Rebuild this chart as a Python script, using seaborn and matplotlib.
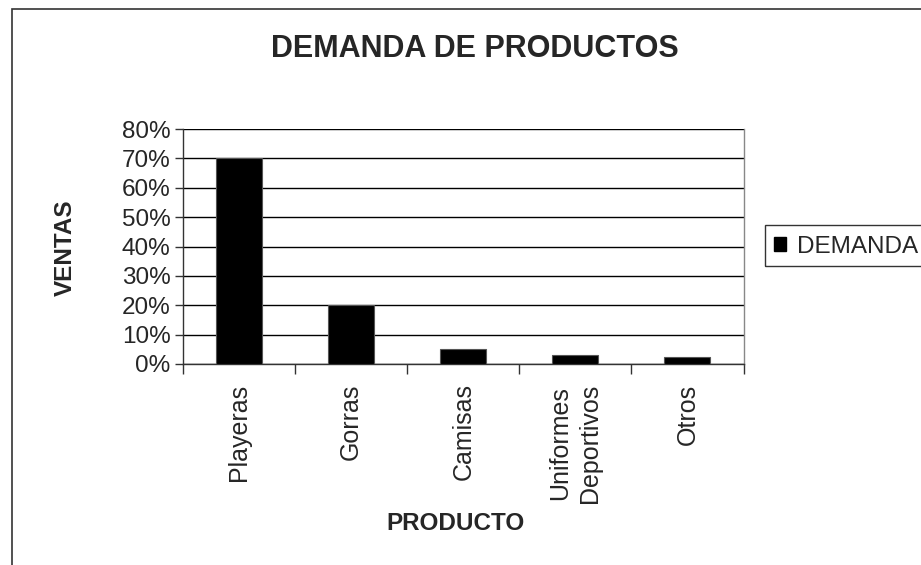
import matplotlib
matplotlib.use("Agg")
import matplotlib.pyplot as plt
import seaborn as sns
import pandas as pd
import numpy as np
from matplotlib.patches import Rectangle
from matplotlib.ticker import FixedLocator, PercentFormatter

productos = ["Playeras", "Gorras", "Camisas", "Uniformes\nDeportivos", "Otros"]
demanda = [0.70, 0.20, 0.05, 0.03, 0.023]
y_ticks = [0.0, 0.1, 0.2, 0.3, 0.4, 0.5, 0.6, 0.7, 0.8]

sns.set_theme(style="white")
plt.rcParams["font.family"] = ["Liberation Sans", "DejaVu Sans"]

df = pd.DataFrame({"PRODUCTO": productos, "DEMANDA": demanda})

W, H = 921, 565
L, R, T, B = 183, 743.5, 129, 364
fig = plt.figure(figsize=(W / 100, H / 100), dpi=100)
fig.patch.set_facecolor("white")
ax = fig.add_axes([L / W, 1 - B / H, (R - L) / W, (B - T) / H])

sns.barplot(data=df, x="PRODUCTO", y="DEMANDA", color="black", width=0.41,
            edgecolor="#555555", linewidth=0.8, saturation=1, ax=ax, zorder=3,
            legend=False)

ax.set_xlim(-0.5, len(productos) - 0.5)
ax.set_ylim(0, 0.8)
ax.set_yticks(y_ticks)
ax.yaxis.set_major_formatter(PercentFormatter(1.0, decimals=0))
ax.grid(axis="y", color="black", linewidth=1, zorder=0)
ax.set_axisbelow(True)

ax.set_xticks(range(len(productos)))
ax.set_xticklabels(productos, rotation=90, va="top", ha="center",
                   fontsize=18, linespacing=1.3)
ax.xaxis.set_minor_locator(FixedLocator(np.arange(-0.5, len(productos), 1.0)))
ax.tick_params(axis="x", which="major", length=0, pad=14)
ax.tick_params(axis="x", which="minor", length=7, width=1, color="#333333",
               direction="out", bottom=True)
ax.tick_params(axis="y", which="major", length=6, width=1, color="#333333",
               direction="out", left=True, labelsize=17.5, pad=3)

for s in ["left", "bottom"]:
    ax.spines[s].set_color("#333333")
    ax.spines[s].set_linewidth(1)
ax.spines["right"].set_color("#888888")
ax.spines["right"].set_linewidth(1)
ax.spines["top"].set_visible(False)

ax.set_xlabel("PRODUCTO", fontsize=17.5, fontweight="bold")
ax.set_ylabel("VENTAS", fontsize=17.5, fontweight="bold")
ax.xaxis.set_label_coords((455 - L) / (R - L), -(524 - B) / (B - T))
ax.xaxis.label.set_va("center")
ax.yaxis.set_label_coords(-(L - 65) / (R - L), (B - 248) / (B - T))
ax.yaxis.label.set_va("center")

fig.text(475 / W, 1 - 49 / H, "DEMANDA DE PRODUCTOS", fontsize=22,
         fontweight="bold", ha="center", va="center")

handle = Rectangle((0, 0), 1, 1, facecolor="black", edgecolor="black")
leg = fig.legend([handle], ["DEMANDA"], loc="center left",
                 bbox_to_anchor=(774 / W, 1 - 247 / H), fontsize=17.5,
                 frameon=False, handlelength=0.5, handleheight=0.5,
                 handletextpad=0.45, borderpad=0, borderaxespad=0)
fig.patches.append(Rectangle((765 / W, 1 - 266 / H), 200 / W, 41 / H,
                             transform=fig.transFigure, fill=False,
                             edgecolor="#333333", linewidth=1, clip_on=False))

fig.patches.append(Rectangle((12 / W, -0.1), 1.2, 1 - 9 / H + 0.1,
                             transform=fig.transFigure, fill=False,
                             edgecolor="#333333", linewidth=1.2, clip_on=False))

fig.savefig("out.png", dpi=100, facecolor="white")
